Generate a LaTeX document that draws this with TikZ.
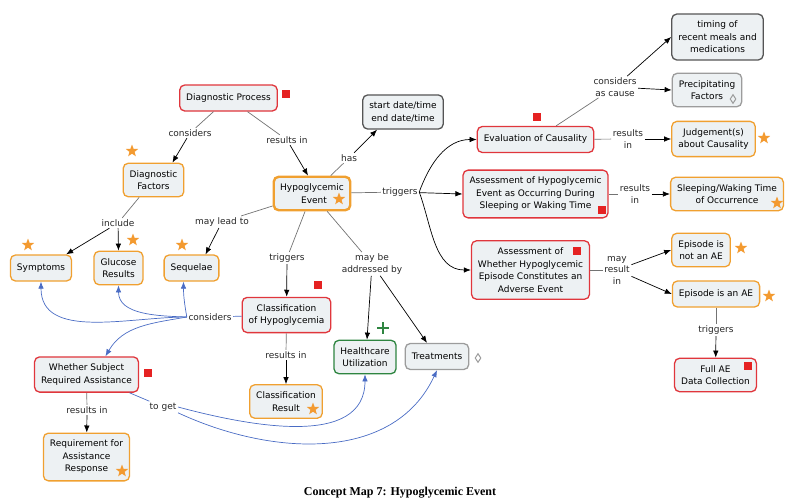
\documentclass[tikz,border=0pt]{standalone}
\usepackage{fontspec}
\setmainfont{DejaVu Sans}
\newfontfamily\capfont{Liberation Serif}
\usetikzlibrary{arrows.meta, shapes.geometric}

\definecolor{boxfill}{HTML}{EDF1F3}
\definecolor{redb}{HTML}{E0363C}
\definecolor{orangeb}{HTML}{F0A030}
\definecolor{greenb}{HTML}{2E8540}
\definecolor{grayb}{HTML}{9C9C9C}
\definecolor{darkb}{HTML}{555555}
\definecolor{linkblue}{HTML}{4A6CC4}
\definecolor{starc}{HTML}{F39A30}
\definecolor{sqred}{HTML}{E52222}

\begin{document}
\begin{tikzpicture}[
        x=1pt, y=-1pt,
        every node/.style={align=center, font=\fontsize{9}{12.5}\selectfont},
        concept/.style={rectangle, draw, rounded corners=5pt, line width=1.3pt, fill=boxfill,
            inner xsep=6.5pt, inner ysep=7pt, minimum height=26pt},
        redbox/.style={concept, draw=redb},
        orbox/.style={concept, draw=orangeb},
        gnbox/.style={concept, draw=greenb},
        grbox/.style={concept, draw=grayb},
        dkbox/.style={concept, draw=darkb},
        lbl/.style={inner sep=1.5pt, font=\fontsize{9}{11.5}\selectfont, text=black!85},
        tail/.style={draw=black!55, line width=0.7pt},
        head/.style={draw=black, line width=0.7pt, -{Latex[length=7pt, width=5.5pt]}},
        btail/.style={draw=linkblue, line width=0.7pt},
        bhead/.style={draw=linkblue, line width=0.7pt, -{Latex[length=7pt, width=5.5pt]}},
        starmark/.style={star, star points=5, star point ratio=2.4, fill=starc, inner sep=0pt, minimum size=13pt},
        sqmark/.style={rectangle, fill=sqred, inner sep=0pt, minimum size=8.5pt},
        diamark/.style={diamond, draw=grayb, line width=1pt, inner sep=0pt, minimum width=6pt, minimum height=9pt}
    ]
        \useasboundingbox (0,0) rectangle (786,501);

        % concepts
        \node[redbox] (diagproc) at (228.5, 98)  {Diagnostic Process};
        \node[orbox]  (diagfac)  at (153.5, 180) {Diagnostic\\Factors};
        \node[orbox]  (sympt)    at (41, 268)    {Symptoms};
        \node[orbox]  (gluc)     at (118.5, 268) {Glucose\\Results};
        \node[orbox]  (seqlae)   at (191.5, 268) {Sequelae};
        \node[orbox, line width=2.4pt] (hypo) at (312, 193.5) {Hypoglycemic\\\hspace*{4pt}Event};
        \node[dkbox]  (dates)    at (403, 112)   {start date/time\\end date/time};
        \node[dkbox]  (timing)   at (717.5, 37)  {timing of\\recent meals and\\medications};
        \node[grbox]  (precip)   at (707, 90)    {Precipitating\\Factors};
        \node[redbox] (evalc)    at (535.5, 139.5) {Evaluation of Causality};
        \node[orbox]  (judge)    at (713.5, 139) {Judgement(s)\\about Causality};
        \node[redbox] (sleepas)  at (535.5, 194) {Assessment of Hypoglycemic\\Event as Occurring During\\Sleeping or Waking Time};
        \node[orbox]  (sleeptm)  at (727, 194)   {Sleeping/Waking Time\\of Occurrence};
        \node[redbox] (aeas)     at (530.5, 270) {Assessment of\\Whether Hypoglycemic\\Episode Constitutes an\\Adverse Event};
        \node[orbox]  (notae)    at (701, 250)   {Episode is\\not an AE};
        \node[orbox]  (isae)     at (716, 294)   {Episode is an AE};
        \node[redbox] (fullae)   at (715.5, 375) {Full AE\\Data Collection};
        \node[redbox] (classhy)  at (286.5, 315) {Classification\\of Hypoglycemia};
        \node[orbox]  (classres) at (286, 401.5) {Classification\\Result};
        \node[gnbox]  (health)   at (365, 357)   {Healthcare\\Utilization};
        \node[grbox]  (treat)    at (437, 356.5) {Treatments};
        \node[redbox] (assist)   at (86.5, 374.5) {Whether Subject\\Required Assistance};
        \node[orbox]  (reqresp)  at (86.5, 457)  {Requirement for\\Assistance\\Response};

        % marks
        \node[sqmark] (sq1) at (286, 94)  {};
        \node[sqmark] (sq2) at (537, 117) {};
        \node[sqmark] (sq3) at (602, 210) {};
        \node[sqmark] (sq4) at (577, 251) {};
        \node[sqmark] (sq5) at (748, 366) {};
        \node[sqmark] (sq6) at (318, 285) {};
        \node[sqmark] (sq7) at (148, 373) {};
        \node[starmark] (st1)  at (132, 151) {};
        \node[starmark] (st2)  at (28, 245)  {};
        \node[starmark] (st3)  at (133, 240) {};
        \node[starmark] (st4)  at (182, 245) {};
        \node[starmark] (st5)  at (339, 199) {};
        \node[starmark] (st6)  at (764, 138) {};
        \node[starmark] (st7)  at (777, 203) {};
        \node[starmark] (st8)  at (741, 248) {};
        \node[starmark] (st9)  at (769, 296) {};
        \node[starmark] (st10) at (313, 409) {};
        \node[starmark] (st11) at (122, 471) {};
        \node[diamark] (dm1) at (733, 99)  {};
        \node[diamark] (dm2) at (478, 358) {};
        \draw[greenb, line width=2pt] (383, 322) -- (383, 334) (377, 328) -- (389, 328);

        % linking phrases
        \node[lbl] (consid1) at (190, 133) {considers};
        \node[lbl] (resin1)  at (287, 140) {results in};
        \node[lbl] (incl)    at (118, 223) {include};
        \node[lbl] (leadto)  at (222, 222) {may lead to};
        \node[lbl] (has)     at (349, 158) {has};
        \node[lbl] (trig1)   at (400, 192) {triggers};
        \node[lbl] (trig2)   at (287, 258) {triggers};
        \node[lbl] (addr)    at (372, 264) {may be\\addressed by};
        \node[lbl] (cause)   at (615, 87)  {considers\\as cause};
        \node[lbl] (resin2)  at (628, 139) {results\\in};
        \node[lbl] (resin3)  at (635, 194) {results\\in};
        \node[lbl] (mayres)  at (617, 270) {may\\result\\in};
        \node[lbl] (trig3)   at (716, 330) {triggers};
        \node[lbl] (resin4)  at (286, 355) {results in};
        \node[lbl] (consid2) at (210, 317) {considers};
        \node[lbl] (resin5)  at (87, 410)  {results in};
        \node[lbl] (toget)   at (163, 407) {to get};

        % links
        \draw[tail] (diagproc) -- (consid1);
        \draw[head] (consid1) -- ([xshift=-12pt]diagfac.north east);
        \draw[tail] (diagproc) -- (resin1);
        \draw[head] (resin1) -- ([xshift=-4pt]hypo.north);
        \draw[tail] (diagfac) -- (incl);
        \draw[head] (incl) -- ([xshift=-6pt]sympt.north east);
        \draw[head] (incl) -- (gluc.north);
        \draw[tail] (hypo) -- (leadto);
        \draw[head] (leadto) -- ([xshift=-14pt]seqlae.north east);
        \draw[tail] (hypo) -- (has);
        \draw[head] (has) -- ([xshift=-26pt]dates.south);
        \draw[tail] (hypo) -- (trig1);
        \draw[head] (trig1.east) to[out=70, in=180] (evalc.west);
        \draw[head] (trig1) -- (sleepas.west);
        \draw[head] (trig1.east) to[out=-70, in=180] (aeas.west);
        \draw[tail] (hypo) -- (trig2);
        \draw[head] (trig2) -- (classhy);
        \draw[tail] (hypo) -- (addr);
        \draw[head] (addr) -- ([xshift=2pt]health.north);
        \draw[head] (addr) -- ([xshift=-10pt]treat.north);
        \draw[tail] (evalc) -- (cause);
        \draw[head] (cause) -- (timing.west);
        \draw[head] (cause) -- (precip.west);
        \draw[tail] (evalc) -- (resin2);
        \draw[head] (resin2) -- (judge);
        \draw[tail] (sleepas) -- (resin3);
        \draw[head] (resin3) -- (sleeptm);
        \draw[tail] (aeas) -- (mayres);
        \draw[head] (mayres) -- (notae.west);
        \draw[head] (mayres) -- (isae.west);
        \draw[tail] (isae) -- (trig3);
        \draw[head] (trig3) -- (fullae);
        \draw[tail] (classhy) -- (resin4);
        \draw[head] (resin4) -- (classres);
        \draw[tail] (assist) -- (resin5);
        \draw[head] (resin5) -- (reqresp);

        % blue links
        \draw[btail] (classhy) -- (consid2);
        \draw[bhead] (consid2.west) to[out=180, in=-90] (sympt.south);
        \draw[bhead] (consid2.west) to[out=178, in=-90] (gluc.south);
        \draw[bhead] (consid2.west) to[out=100, in=-90] ([xshift=-8pt]seqlae.south);
        \draw[bhead] (consid2.west) to[out=190, in=60] ([xshift=19pt]assist.north);
        \draw[btail] (assist) -- (toget);
        \draw[bhead] (toget.east) to[out=-15, in=-90] (health.south);
        \draw[bhead] (toget.south east) to[out=-25, in=-115] (treat.south);

        \node[font=\capfont\bfseries\fontsize{12}{14}\selectfont] (caption) at (400, 493) {Concept Map 7: Hypoglycemic Event};
    \end{tikzpicture}
\end{document}
